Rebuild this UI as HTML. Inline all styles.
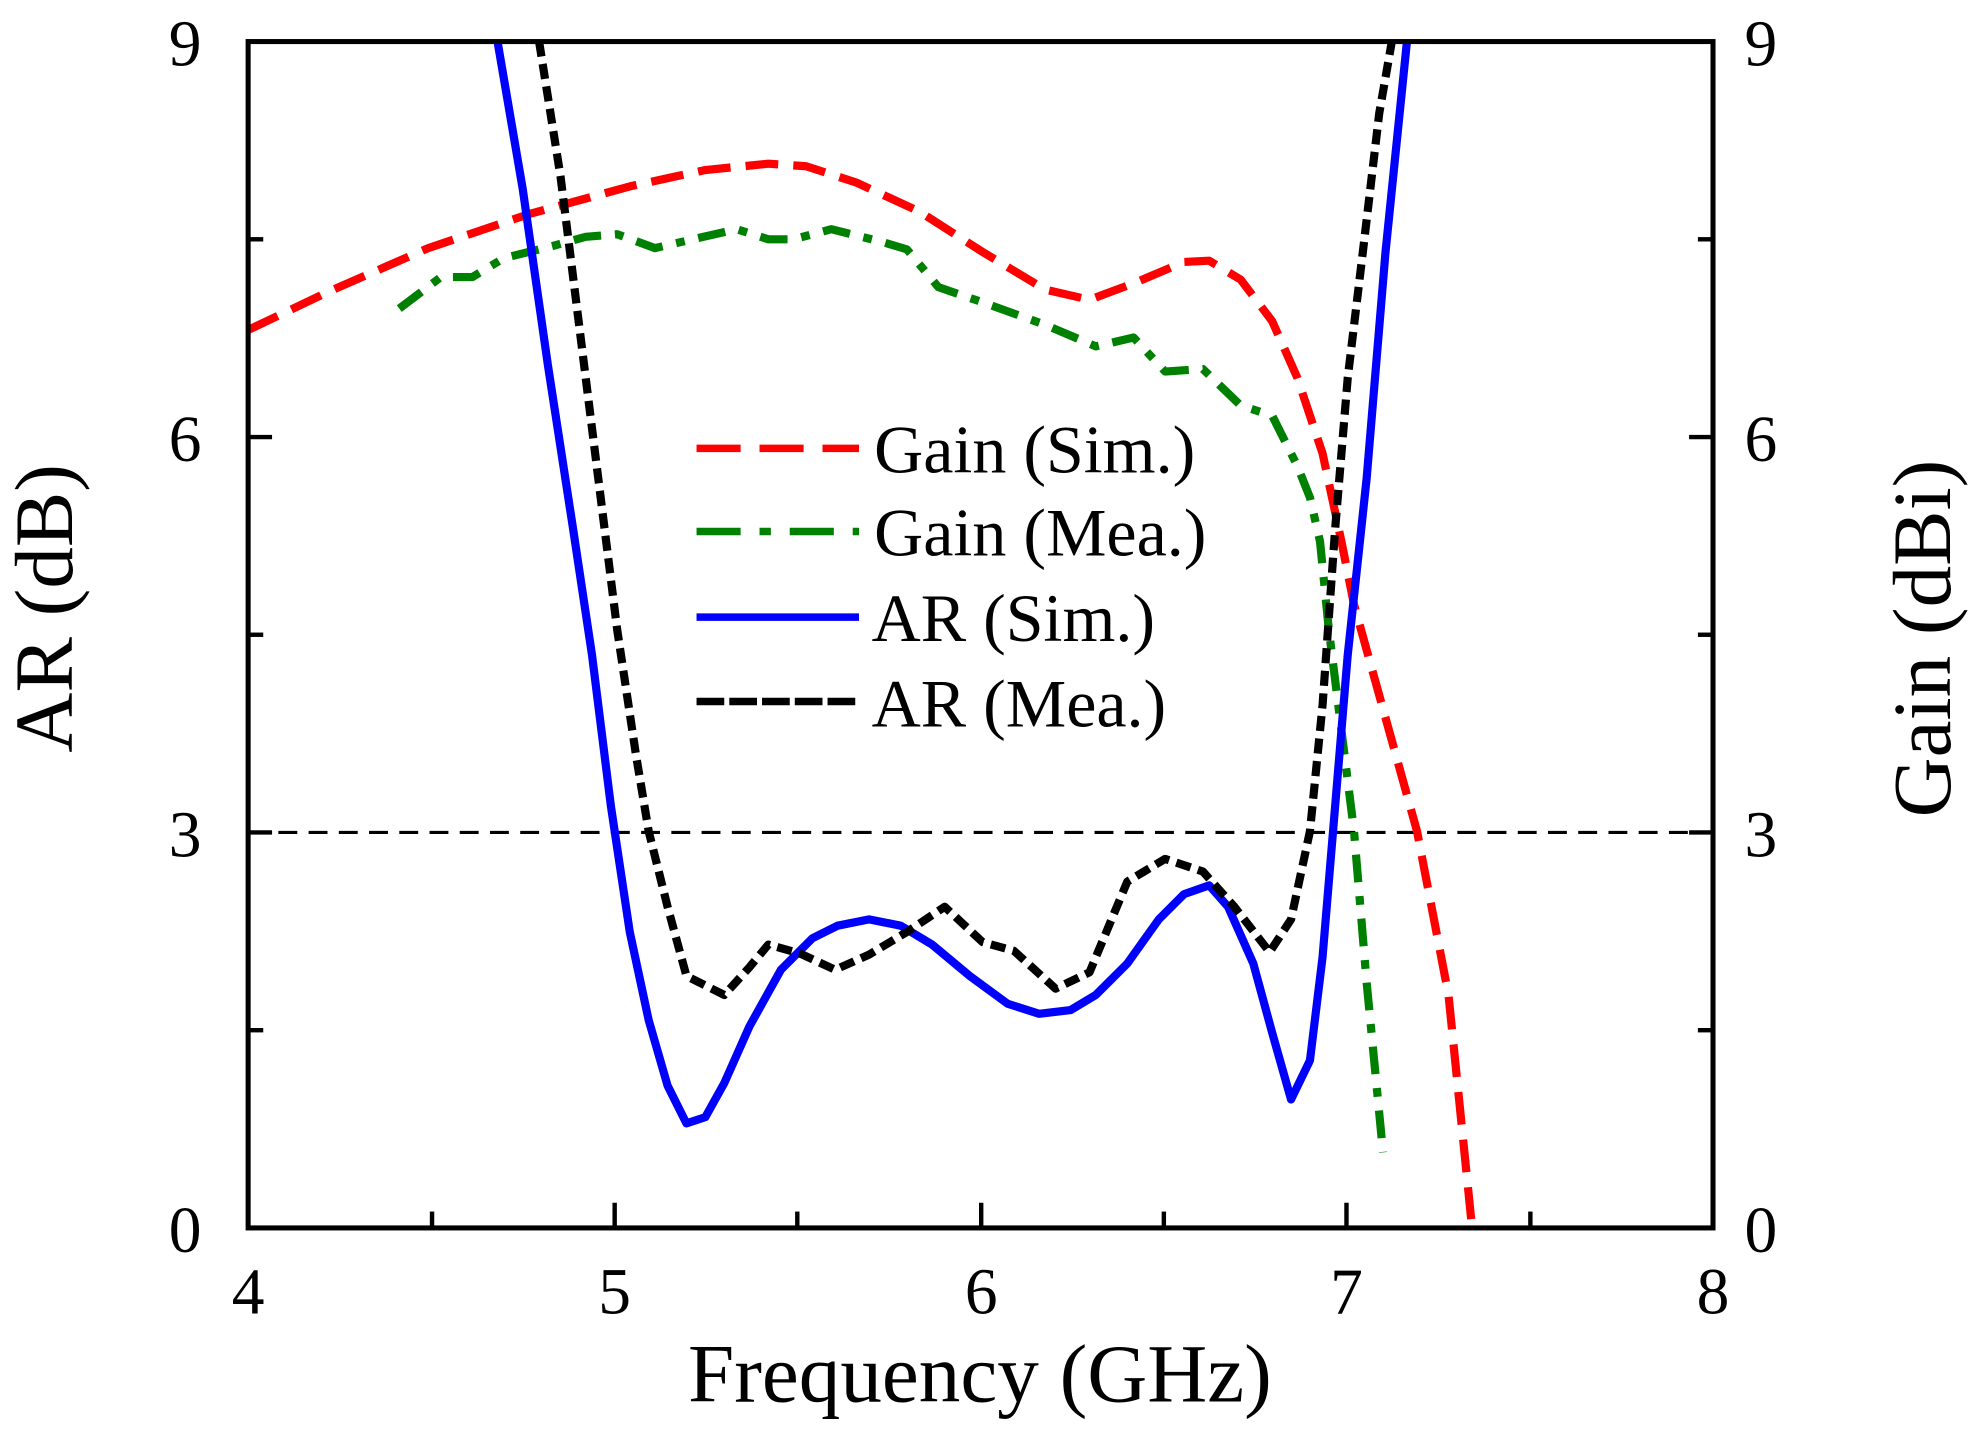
<!DOCTYPE html>
<html><head><meta charset="utf-8"><style>html,body{margin:0;padding:0;background:#fff}svg{display:block}</style></head>
<body>
<svg width="1975" height="1437" viewBox="0 0 1568 1141" preserveAspectRatio="none" xmlns="http://www.w3.org/2000/svg" font-family="Liberation Serif, serif">
<rect width="1568" height="1141" fill="#fff"/>
<line x1="197" y1="661" x2="1360" y2="661" stroke="#000" stroke-width="2.5" stroke-dasharray="15,9"/>
<g fill="none" stroke-width="6.5" stroke-linejoin="round">
<polyline stroke="#f00" stroke-dasharray="26,12" points="197,262 260,232 340,197 420,170 500,148 560,135 610,130 640,132 680,145 730,168 780,200 830,230 865,238 900,225 940,208 960,207 985,222 1010,255 1030,300 1050,360 1065,430 1075,480 1100,570 1125,660 1150,790 1168,968"/>
<polyline stroke="#008000" stroke-dasharray="22,11,7,11" points="317,245 350,220 375,220 400,205 440,195 465,188 490,186 520,197 550,190 585,182 610,190 630,190 660,182 700,192 720,198 745,228 780,240 830,258 870,275 900,268 925,295 955,293 985,322 1010,330 1030,370 1040,395 1048,430 1055,500 1065,580 1075,660 1085,780 1098,915"/>
<polyline stroke="#0000ff" points="395,33 415,150 435,290 455,420 470,520 485,640 500,740 515,810 530,862 545,892 560,887 575,860 595,815 620,770 645,745 665,735 690,730 715,735 740,750 770,775 800,797 825,805 850,802 870,790 895,765 920,730 940,710 960,703 975,720 995,765 1010,820 1025,873 1040,842 1050,760 1060,640 1070,520 1085,380 1100,200 1117,33"/>
<polyline stroke="#000" stroke-dasharray="12,6" points="428,33 445,140 460,260 475,380 490,500 505,600 515,660 530,720 545,775 575,790 595,768 610,750 635,757 663,770 690,758 720,740 750,720 780,748 805,755 838,785 865,772 895,700 925,682 955,692 980,720 1008,756 1025,730 1040,660 1050,560 1060,420 1070,300 1082,200 1095,90 1105,33"/>
</g>
<rect x="197" y="33" width="1163" height="942" fill="none" stroke="#000" stroke-width="4"/>
<g stroke="#000" stroke-width="3.5">
<line x1="197" y1="347" x2="216" y2="347"/><line x1="197" y1="661" x2="216" y2="661"/>
<line x1="197" y1="190" x2="209" y2="190"/><line x1="197" y1="504" x2="209" y2="504"/><line x1="197" y1="818" x2="209" y2="818"/>
<line x1="1360" y1="347" x2="1341" y2="347"/><line x1="1360" y1="661" x2="1341" y2="661"/>
<line x1="1360" y1="190" x2="1348" y2="190"/><line x1="1360" y1="504" x2="1348" y2="504"/><line x1="1360" y1="818" x2="1348" y2="818"/>
<line x1="488" y1="975" x2="488" y2="955"/><line x1="779" y1="975" x2="779" y2="955"/><line x1="1069" y1="975" x2="1069" y2="955"/>
<line x1="343" y1="975" x2="343" y2="962"/><line x1="633" y1="975" x2="633" y2="962"/><line x1="924" y1="975" x2="924" y2="962"/><line x1="1215" y1="975" x2="1215" y2="962"/>
</g>
<g font-size="52" fill="#000">
<g text-anchor="end"><text x="160" y="52">9</text><text x="160" y="366">6</text><text x="160" y="680">3</text><text x="160" y="994">0</text></g>
<g text-anchor="start"><text x="1385" y="52">9</text><text x="1385" y="366">6</text><text x="1385" y="680">3</text><text x="1385" y="994">0</text></g>
<g text-anchor="middle"><text x="197" y="1043">4</text><text x="488" y="1043">5</text><text x="779" y="1043">6</text><text x="1069" y="1043">7</text><text x="1360" y="1043">8</text></g>
</g>
<g font-size="66" fill="#000" text-anchor="middle">
<text x="778" y="1113">Frequency (GHz)</text>
<text transform="translate(57,483) rotate(-90)">AR (dB)</text>
<text transform="translate(1548,507) rotate(-90)">Gain (dBi)</text>
</g>
<g stroke-width="6">
<line x1="553" y1="356" x2="682" y2="356" stroke="#f00" stroke-dasharray="35,15"/>
<line x1="553" y1="422" x2="682" y2="422" stroke="#008000" stroke-dasharray="35,15,9,15"/>
<line x1="553" y1="490" x2="682" y2="490" stroke="#0000ff"/>
<line x1="553" y1="557" x2="682" y2="557" stroke="#000" stroke-dasharray="22,4"/>
</g>
<g font-size="54" fill="#000">
<text x="694" y="375">Gain (Sim.)</text>
<text x="694" y="441">Gain (Mea.)</text>
<text x="692" y="509">AR (Sim.)</text>
<text x="692" y="577">AR (Mea.)</text>
</g>
</svg>
</body></html>
